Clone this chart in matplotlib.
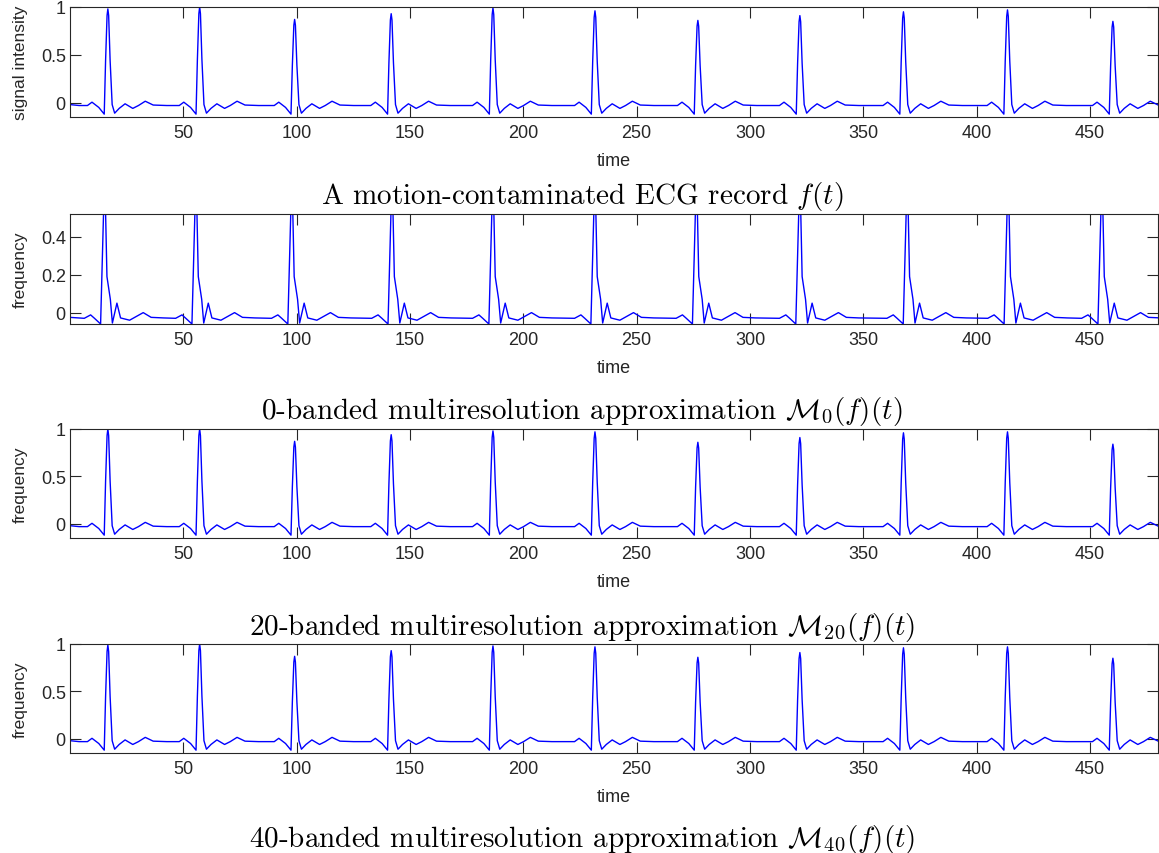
import numpy as np
import matplotlib
matplotlib.use("Agg")
import matplotlib.pyplot as plt

plt.rcParams['font.family'] = ['Liberation Sans', 'DejaVu Sans']
plt.rcParams['mathtext.fontset'] = 'cm'

# R-peak times and heights
r_times = [16.7, 57.2, 99.1, 141.7, 186.6, 231.6, 277.0, 322.0, 367.7, 413.6, 460.1]
f_heights = [0.98, 1.00, 0.87, 0.93, 0.99, 0.96, 0.86, 0.91, 0.95, 0.97, 0.85]
m20_heights = [1.00, 1.00, 0.87, 0.94, 0.98, 0.97, 0.86, 0.91, 0.96, 0.97, 0.84]
m40_heights = [0.99, 1.00, 0.87, 0.93, 0.98, 0.97, 0.86, 0.91, 0.96, 0.97, 0.85]

# one heartbeat, relative to the R peak: offset, level, share of peak height
ecg_dt = [-9.0, -7.0, -4.0, -1.6, -1.0, -0.35, 0.0, 0.35, 1.0, 1.9, 3.0, 5.0, 7.6, 11.0, 13.5, 16.5, 20.0, 26.0]
ecg_base = [-0.03, 0.005, -0.05, -0.12, 0.0, 0.0, 0.0, 0.0, 0.0, -0.02, -0.11, -0.06, -0.012, -0.06, -0.03, 0.015, -0.025, -0.03]
ecg_frac = [0, 0, 0, 0, 0.45, 0.93, 1.0, 0.93, 0.45, 0, 0, 0, 0, 0, 0, 0, 0, 0]

# 0-banded approximation: peak times and the coarse beat shape
m0_times = [15.3, 55.6, 97.9, 142.1, 186.6, 231.6, 276.4, 322.0, 369.4, 413.9, 455.3]
m0_heights = [0.75, 0.75, 0.75, 0.75, 0.75, 0.75, 0.75, 0.75, 0.75, 0.75, 0.75]
m0_dt = [-9.0, -6.2, -4.5, -1.8, 0.0, 1.0, 2.5, 3.4, 5.4, 7.0, 11.0, 17.0, 20.5, 26.0]
m0_base = [-0.03, -0.012, -0.03, -0.06, 0.0, 0.19, 0.07, -0.055, 0.05, -0.028, -0.04, 0.0, -0.025, -0.028]
m0_frac = [0, 0, 0, 0, 1.0, 0, 0, 0, 0, 0, 0, 0, 0, 0]


def build(times, heights, dts, base, frac, start):
    t = [p[0] for p in start]
    v = [p[1] for p in start]
    for rt, h in zip(times, heights):
        for d, b, s in zip(dts, base, frac):
            t.append(rt + d)
            v.append(b + s * h)
    return np.array(t), np.array(v)


panels = [
    (build(r_times, f_heights, ecg_dt, ecg_base, ecg_frac, [(0, -0.02), (4, -0.03)]),
     'signal intensity', (-0.15, 1), [0, 0.5, 1], ['0', '0.5', '1'],
     r'A motion-contaminated ECG record $f(t)$'),
    (build(m0_times, m0_heights, m0_dt, m0_base, m0_frac, [(0, -0.025)]),
     'frequency', (-0.06, 0.52), [0, 0.2, 0.4], ['0', '0.2', '0.4'],
     r'0-banded multiresolution approximation $\mathcal{M}_{0}(f)(t)$'),
    (build(r_times, m20_heights, ecg_dt, ecg_base, ecg_frac, [(0, -0.02), (4, -0.03)]),
     'frequency', (-0.15, 1), [0, 0.5, 1], ['0', '0.5', '1'],
     r'20-banded multiresolution approximation $\mathcal{M}_{20}(f)(t)$'),
    (build(r_times, m40_heights, ecg_dt, ecg_base, ecg_frac, [(0, -0.02), (4, -0.03)]),
     'frequency', (-0.15, 1), [0, 0.5, 1], ['0', '0.5', '1'],
     r'40-banded multiresolution approximation $\mathcal{M}_{40}(f)(t)$'),
]

W, H = 1159, 854
fig = plt.figure(figsize=(W / 100, H / 100), dpi=100)

# axes boxes in pixels: top, bottom
boxes = [(8, 118), (215, 325), (430, 539), (645, 754)]
title_y = [204, 419, 635, 847]
frame = '#262626'

for (series, ylab, ylim, yt, ytl, title), (top, bot), ty in zip(panels, boxes, title_y):
    ax = fig.add_axes([70 / W, 1 - bot / H, 1088 / W, (bot - top) / H])
    t, v = series
    ax.plot(t, v, color='blue', lw=1.0)
    ax.set_xlim(0, 480)
    ax.set_ylim(*ylim)
    ax.set_xticks([50, 100, 150, 200, 250, 300, 350, 400, 450])
    ax.set_yticks(yt)
    ax.set_yticklabels(ytl)
    ax.tick_params(direction='in', top=True, right=True, length=8, width=0.8,
                   colors=frame, labelsize=13, labelcolor='#262626')
    ax.tick_params(axis='x', pad=5)
    ax.tick_params(axis='y', pad=3)
    for sp in ax.spines.values():
        sp.set_color(frame)
        sp.set_linewidth(0.8)
    ax.set_xlabel('time', fontsize=13, color='#262626', labelpad=8)
    ax.set_ylabel(ylab, fontsize=12.5, color='#262626')
    ax.yaxis.set_label_coords(-0.039, 0.5)
    fig.text(582 / W, 1 - ty / H, title, fontsize=21, family='cmr10',
             ha='center', va='baseline')

fig.savefig('out.png', dpi=100)
